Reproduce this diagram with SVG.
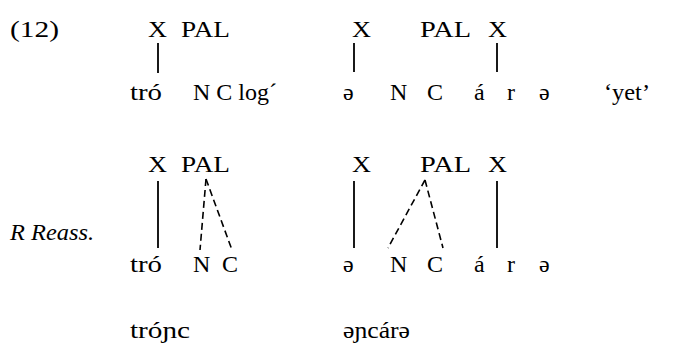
<svg xmlns="http://www.w3.org/2000/svg" width="680" height="344" viewBox="0 0 680 344" font-family="Liberation Serif, Times New Roman, serif" font-size="24">
<style>
text{fill:#000}
.it{font-style:italic}
.s{stroke:#000;stroke-width:1.8;fill:none}
.d{stroke:#000;stroke-width:1.6;fill:none;stroke-dasharray:7 4}
</style>
<rect width="680" height="344" fill="#fff"/>
<g id="label12"><text x="10" y="37" textLength="49" lengthAdjust="spacingAndGlyphs">(12)</text></g>
<g id="rreass"><text class="it" x="10" y="240" textLength="84" lengthAdjust="spacingAndGlyphs">R Reass.</text></g>

<g id="r1-left">
<text x="148" y="37" textLength="19" lengthAdjust="spacingAndGlyphs">X</text>
<text x="181" y="37" textLength="49" lengthAdjust="spacingAndGlyphs">PAL</text>
<text x="130" y="100" textLength="32" lengthAdjust="spacingAndGlyphs">tró</text>
<text x="193" y="100" textLength="84" lengthAdjust="spacingAndGlyphs">N C log´</text>
</g>
<g id="r1-right">
<text x="352" y="37" textLength="19" lengthAdjust="spacingAndGlyphs">X</text>
<text x="420" y="37" textLength="51" lengthAdjust="spacingAndGlyphs">PAL</text>
<text x="488" y="37" textLength="19" lengthAdjust="spacingAndGlyphs">X</text>
<text x="343" y="100">ə</text>
<text x="390" y="100">N</text>
<text x="427" y="100">C</text>
<text x="474" y="100">á</text>
<text x="507" y="100">r</text>
<text x="539" y="100">ə</text>
<text x="604" y="100" textLength="46" lengthAdjust="spacingAndGlyphs">‘yet’</text>
</g>

<g id="r2-left">
<text x="148" y="172" textLength="19" lengthAdjust="spacingAndGlyphs">X</text>
<text x="181" y="172" textLength="49" lengthAdjust="spacingAndGlyphs">PAL</text>
<text x="130" y="272" textLength="32" lengthAdjust="spacingAndGlyphs">tró</text>
<text x="193" y="272">N</text>
<text x="222" y="272">C</text>
</g>
<g id="r2-right">
<text x="352" y="172" textLength="19" lengthAdjust="spacingAndGlyphs">X</text>
<text x="420" y="172" textLength="51" lengthAdjust="spacingAndGlyphs">PAL</text>
<text x="488" y="172" textLength="19" lengthAdjust="spacingAndGlyphs">X</text>
<text x="343" y="272">ə</text>
<text x="390" y="272">N</text>
<text x="427" y="272">C</text>
<text x="474" y="272">á</text>
<text x="507" y="272">r</text>
<text x="539" y="272">ə</text>
</g>

<g id="r3">
<text x="130" y="338" textLength="60" lengthAdjust="spacingAndGlyphs">tróɲc</text>
<text x="343" y="338" textLength="67" lengthAdjust="spacingAndGlyphs">əɲcárə</text>
</g>

<g id="connectors">
<line class="s" x1="158" y1="43" x2="158" y2="73"/>
<line class="s" x1="354" y1="43" x2="354" y2="72"/>
<line class="s" x1="497" y1="43" x2="497" y2="72"/>
<line class="s" x1="158" y1="181" x2="158" y2="248"/>
<line class="s" x1="354" y1="181" x2="354" y2="248"/>
<line class="s" x1="497" y1="181" x2="497" y2="248"/>
<line class="d" x1="206" y1="179" x2="200" y2="250"/>
<line class="d" x1="206" y1="179" x2="232" y2="250"/>
<line class="d" x1="425" y1="180" x2="388" y2="248"/>
<line class="d" x1="425" y1="180" x2="443" y2="248"/>
</g>
</svg>
